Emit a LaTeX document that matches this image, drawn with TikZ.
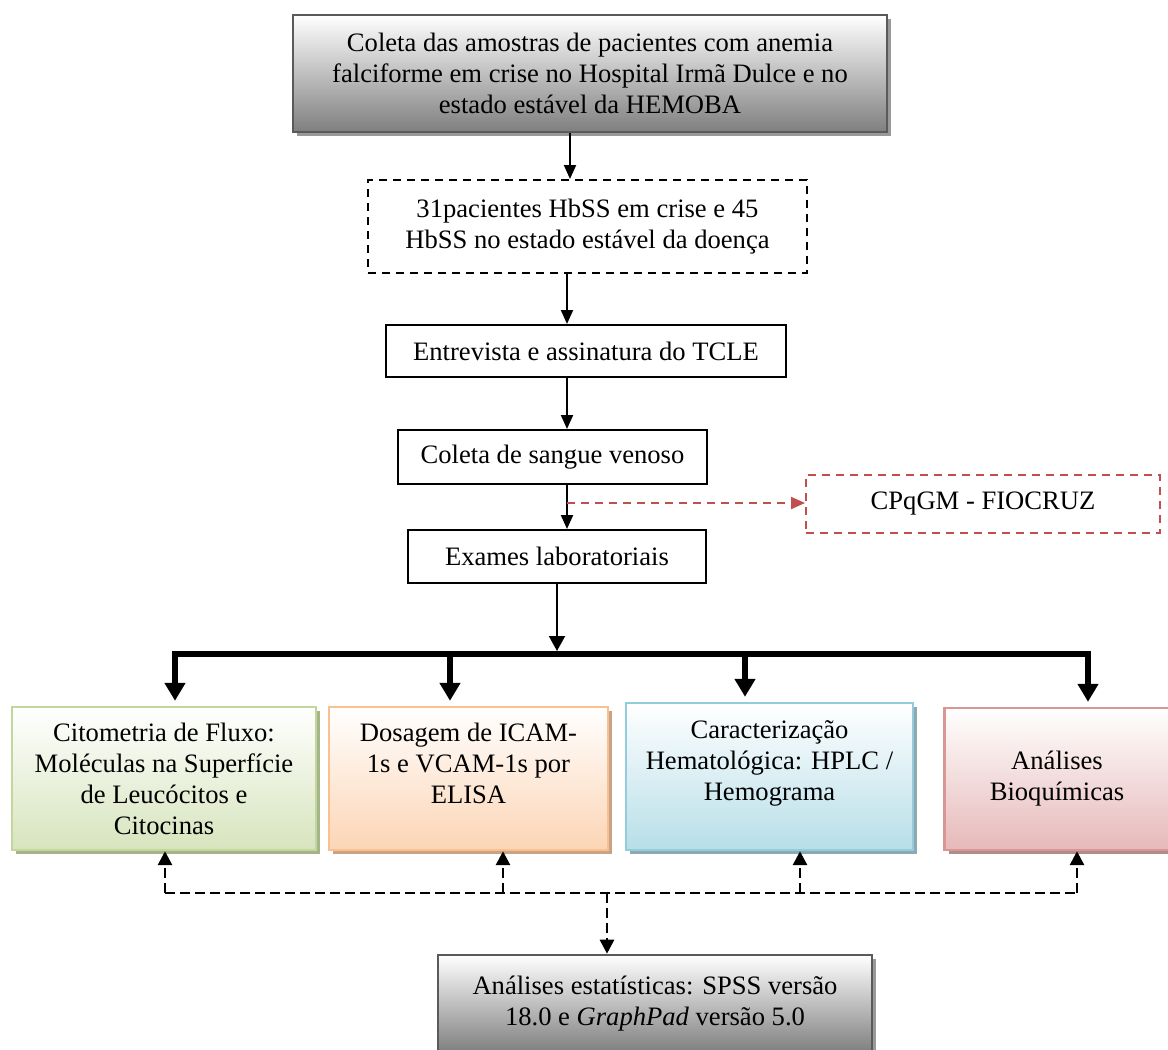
\documentclass[tikz,border=0pt]{standalone}
\usepackage{fontspec}
\setmainfont{Liberation Serif}
\usepackage{xcolor}
\usetikzlibrary{arrows.meta,positioning,shadows}

\definecolor{graybot}{HTML}{7F7F7F}
\definecolor{grayline}{HTML}{5A5A5A}
\definecolor{greenfill}{HTML}{D7E4BD}
\definecolor{greenline}{HTML}{C3D69B}
\definecolor{greenshadow}{HTML}{A5B58A}
\definecolor{orangefill}{HTML}{FCD5B5}
\definecolor{orangeline}{HTML}{FAC090}
\definecolor{orangeshadow}{HTML}{C9A484}
\definecolor{bluefill}{HTML}{B7DEE8}
\definecolor{blueline}{HTML}{93CDDD}
\definecolor{blueshadow}{HTML}{8FA9B0}
\definecolor{redfill}{HTML}{E6B9B8}
\definecolor{redline}{HTML}{D99694}
\definecolor{redshadow}{HTML}{B08C8B}
\definecolor{fiored}{HTML}{C0504D}

\begin{document}
\begin{tikzpicture}[
  x=0.5pt, y=-0.5pt,
  font=\fontsize{13.3}{15.5}\selectfont,
  plainbox/.style={draw, line width=1pt, align=center, inner sep=0pt},
  dashbox/.style={plainbox, dash pattern=on 4pt off 3pt},
  graybox/.style={draw=grayline, line width=1.3pt, align=center, inner sep=0pt,
    top color=white, bottom color=graybot,
    drop shadow={shadow xshift=2pt, shadow yshift=-2pt, fill=black!40, opacity=1}},
  colorbox/.style 2 args={draw=#1line, line width=1.2pt, align=center, inner sep=0pt,
    top color=white, bottom color=#1fill,
    drop shadow={shadow xshift=2pt, shadow yshift=-2pt, fill=#2, opacity=1}},
  arr/.style={-{Triangle[width=6pt,length=7pt]}, line width=1pt},
  bigarr/.style={-{Triangle[width=8pt,length=7.5pt]}, line width=1pt},
  fat/.style={line width=3pt},
  fatarr/.style={-{Triangle[width=10pt,length=9pt]}, line width=3pt},
  dasharr/.style={-{Triangle[width=7pt,length=7pt]}, line width=1.4pt, dash pattern=on 5pt off 2.5pt},
  redarr/.style={-{Triangle[width=6pt,length=7pt]}, draw=fiored, line width=1pt, dash pattern=on 4pt off 3pt}
]
\useasboundingbox (0,0) rectangle (1168,1050);

% upper chain
\node[graybox, minimum width=297pt, minimum height=58.5pt] (coleta) at (590,73.5)
  {Coleta das amostras de pacientes com anemia\\falciforme em crise no Hospital Irmã Dulce e no\\estado estável da HEMOBA};
\node[dashbox, minimum width=219.5pt, minimum height=46.5pt] (pacientes) at (587.5,226.5)
  {31pacientes HbSS em crise e 45\\HbSS no estado estável da doença};
\node[plainbox, minimum width=200pt, minimum height=26pt] (tcle) at (586,351)
  {Entrevista e assinatura do TCLE};
\node[plainbox, minimum width=154.5pt, minimum height=27pt] (sangue) at (552.5,457)
  {Coleta de sangue venoso};
\node[plainbox, minimum width=149pt, minimum height=26.5pt] (exames) at (557,556.5)
  {Exames laboratoriais};
\node[dashbox, draw=fiored, minimum width=177pt, minimum height=29pt] (fiocruz) at (983,504)
  {CPqGM - FIOCRUZ};

% analyses
\node[colorbox={green}{greenshadow}, minimum width=152pt, minimum height=71.5pt] (cito) at (164,778.5)
  {Citometria de Fluxo:\\Moléculas na Superfície\\de Leucócitos e\\Citocinas};
\node[colorbox={orange}{orangeshadow}, minimum width=139.5pt, minimum height=71.5pt] (elisa) at (468.5,778.5)
  {Dosagem de ICAM-\\1s e VCAM-1s por\\ELISA\\\mbox{}};
\node[colorbox={blue}{blueshadow}, minimum width=143.5pt, minimum height=73.5pt] (hemato) at (769.5,776.5)
  {Caracterização\\Hematológica: HPLC /\\Hemograma\\\mbox{}};
\node[colorbox={red}{redshadow}, minimum width=112.5pt, minimum height=71pt] (bioq) at (1057,779)
  {Análises\\Bioquímicas};
\node[graybox, minimum width=217pt, minimum height=48.5pt] (stats) at (655,1003.5)
  {Análises estatísticas: SPSS versão\\18.0 e \textit{GraphPad} versão 5.0};

\draw[arr] ([xshift=-10pt]coleta.south) -- ([xshift=-10pt]coleta.south |- pacientes.north);
\draw[arr] ([xshift=-10.25pt]pacientes.south) -- ([xshift=-10.25pt]pacientes.south |- tcle.north);
\draw[arr] ([xshift=-9.5pt]tcle.south) -- ([xshift=-9.5pt]tcle.south |- sangue.north);
\draw[arr] ([xshift=7.25pt]sangue.south) -- ([xshift=7.25pt]sangue.south |- exames.north);
\coordinate (split) at (567,503);
\draw[redarr] (split) -- (split -| fiocruz.west);

% thick distribution bar
\coordinate (busA) at (175,654);
\coordinate (busB) at (450,654);
\coordinate (busC) at (745,654);
\coordinate (busD) at (1088,654);
\draw[bigarr] (exames.south) -- ([yshift=1.5pt]exames.south |- busA);
\draw[fat, line cap=rect] (busA) -- (busD);
\draw[fatarr, shorten >=2.5pt] (busA) -- (busA |- cito.north);
\draw[fatarr, shorten >=2.5pt] (busB) -- (busB |- elisa.north);
\draw[fatarr, shorten >=2.5pt] (busC) -- (busC |- hemato.north);
\draw[fatarr, shorten >=2.5pt] (busD) -- (busD |- bioq.north);

% dashed links to statistics
\coordinate (hubA) at (165,893);
\coordinate (hubB) at (503,893);
\coordinate (hubC) at (800,893);
\coordinate (hubD) at (1077,893);
\coordinate (hub) at (607,893);
\draw[line width=1.4pt, dash pattern=on 5pt off 2.5pt] (hubA) -- (hubD);
\draw[dasharr] (hubA) -- (hubA |- cito.south);
\draw[dasharr] (hubB) -- (hubB |- elisa.south);
\draw[dasharr] (hubC) -- (hubC |- hemato.south);
\draw[dasharr] (hubD) -- (hubD |- bioq.south);
\draw[dasharr] (hub) -- (hub |- stats.north);
\end{tikzpicture}
\end{document}
